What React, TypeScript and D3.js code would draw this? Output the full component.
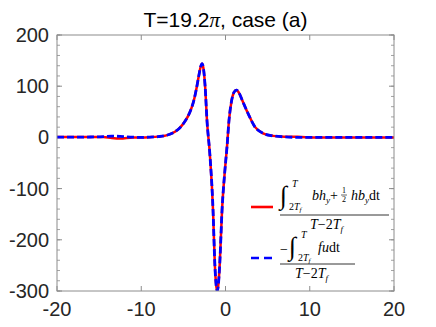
import * as d3 from "d3";

// size of the picture
const W = 436;
const H = 327;

// plot box (MATLAB-like axes)
const margin = { top: 35, right: 42, bottom: 36, left: 57 };

// data
const xPos = [
  -20, -18, -16, -14.5, -13.5, -12.5, -11, -10, -9, -8, -7, -6, -5.4, -4.83, -4.4, -4.04,
  -3.7, -3.44, -3.15, -2.95, -2.78, -2.62, -2.42, -2.19, -1.87, -1.48, -1.27, -1.1, -0.97,
  -0.83, -0.68, -0.41, -0.1, 0.18, 0.42, 0.74, 1.0, 1.29, 1.6, 2.0, 2.67, 3.47, 4.45, 5.64,
  7, 8, 9, 11, 13, 15, 17, 20,
];
const blueVals = [
  0.5, 0.5, 0.8, 1.5, 2.5, 2, 0.5, 0, 0.5, 1.5, 4, 11, 19, 31, 43, 57,
  76, 96, 122, 138, 144, 135, 100, 31, -30, -142, -246, -290, -300,
  -285, -246, -142, -70, -18, 34, 73, 88, 92.5, 87, 72, 47, 21, 8, 3,
  1, 0.3, 0, 0, 0, 0, 0, 0,
];
const redVals = [
  1, 0.8, 0.8, 1, -1, -2, 0, 0, 0.5, 1.5, 4, 11, 19, 31, 43, 57,
  76, 96, 122, 138, 144, 135, 100, 31, -30, -142, -246, -290, -300,
  -285, -246, -142, -70, -18, 34, 73, 88, 92.5, 87, 72, 47, 21, 8, 3,
  1.5, 1.3, 0.8, 0, 0, 0, 0, 0,
];

const xTicks = [-20, -10, 0, 10, 20];
const yTicks = [200, 100, 0, -100, -200, -300];
const yMinor = d3.range(-300, 201, 20);

const axisColor = "#262626";
const boxColor = "#8c8c8c";

export default function App() {
  const x = d3.scaleLinear().domain([-20, 20]).range([margin.left, W - margin.right]);
  const y = d3.scaleLinear().domain([-300, 200]).range([H - margin.bottom, margin.top]);

  const line = d3
    .line<number>()
    .x((_, i) => x(xPos[i]))
    .y((d) => y(d))
    .curve(d3.curveMonotoneX);

  const x0 = x.range()[0];
  const x1 = x.range()[1];
  const yTop = y.range()[1];
  const yBot = y.range()[0];

  const mathFont = "'Liberation Serif', 'DejaVu Serif', serif";

  return (
    <svg
      width={W}
      height={H}
      style={{ position: "absolute", left: 0, top: 0, background: "#fff" }}
      fontFamily="'Liberation Sans', Arial, sans-serif"
    >
      <defs>
        <clipPath id="plot-clip">
          <rect x={x0} y={yTop - 2} width={x1 - x0} height={yBot - yTop + 2} />
        </clipPath>
      </defs>

      {/* title */}
      <text x={(x0 + x1) / 2} y={27} textAnchor="middle" fontSize={21} fill="#000">
        T=19.2<tspan fontFamily={mathFont} fontStyle="italic">π</tspan>, case (a)
      </text>

      {/* minor y ticks, left and right */}
      {yMinor.map((v) => (
        <g key={"m" + v} stroke={boxColor} strokeWidth={0.8}>
          <line x1={x0} x2={x0 + 3} y1={y(v)} y2={y(v)} />
          <line x1={x1} x2={x1 - 3} y1={y(v)} y2={y(v)} />
        </g>
      ))}
      {/* major y ticks */}
      {yTicks.map((v) => (
        <g key={"y" + v}>
          <line x1={x0} x2={x0 + 5} y1={y(v)} y2={y(v)} stroke={boxColor} />
          <line x1={x1} x2={x1 - 5} y1={y(v)} y2={y(v)} stroke={boxColor} />
          <text x={x0 - 8} y={y(v)} dy="0.35em" textAnchor="end" fontSize={20} fill={axisColor}>
            {v}
          </text>
        </g>
      ))}
      {/* x ticks */}
      {xTicks.map((v) => (
        <g key={"x" + v}>
          <line x1={x(v)} x2={x(v)} y1={yBot} y2={yBot - 5} stroke={boxColor} />
          <line x1={x(v)} x2={x(v)} y1={yTop} y2={yTop + 5} stroke={boxColor} />
          <text x={x(v)} y={yBot + 25} textAnchor="middle" fontSize={20} fill={axisColor}>
            {v}
          </text>
        </g>
      ))}

      {/* curves */}
      <g clipPath="url(#plot-clip)" fill="none" strokeLinejoin="round">
        <path d={line(redVals) ?? ""} stroke="#ff0000" strokeWidth={2.5} />
        <path d={line(blueVals) ?? ""} stroke="#0000ff" strokeWidth={2.8} strokeDasharray="7,3" />
      </g>

      {/* box */}
      <rect x={x0} y={yTop} width={x1 - x0} height={yBot - yTop} fill="none" stroke={boxColor} />

      {/* legend */}
      <g fontFamily={mathFont} fill="#000">
        <line x1={251} x2={273} y1={207} y2={207} stroke="#ff0000" strokeWidth={2.6} />
        <text x={280} y={204} fontSize={26}>∫</text>
        <text x={292} y={187} fontSize={10} fontStyle="italic">T</text>
        <text x={289} y={210} fontSize={10}>
          2<tspan fontStyle="italic">T</tspan>
          <tspan fontSize={7} fontStyle="italic" dy={2}>f</tspan>
        </text>
        <text x={312} y={200} fontSize={14} fontStyle="italic">
          bh<tspan fontSize={9} dy={3}>y</tspan>
          <tspan dy={-3} fontStyle="normal">+</tspan>
        </text>
        <text x={344} y={193} fontSize={8} textAnchor="middle">1</text>
        <line x1={341} x2={347} y1={195} y2={195} stroke="#000" strokeWidth={0.6} />
        <text x={344} y={202} fontSize={8} textAnchor="middle">2</text>
        <text x={351} y={200} fontSize={14} fontStyle="italic">
          hb<tspan fontSize={9} dy={3}>y</tspan>
          <tspan dy={-3} fontStyle="normal">dt</tspan>
        </text>
        <line x1={280} x2={389} y1={215} y2={215} stroke="#000" strokeWidth={0.8} />
        <text x={310} y={229} fontSize={14} fontStyle="italic">
          T<tspan fontStyle="normal">−2</tspan>T<tspan fontSize={9} dy={3}>f</tspan>
        </text>

        <line x1={251} x2={273} y1={258} y2={258} stroke="#0000ff" strokeWidth={2.6} strokeDasharray="8,5" />
        <text x={280} y={254} fontSize={14}>−</text>
        <text x={289} y={255} fontSize={26}>∫</text>
        <text x={301} y={238} fontSize={10} fontStyle="italic">T</text>
        <text x={298} y={261} fontSize={10}>
          2<tspan fontStyle="italic">T</tspan>
          <tspan fontSize={7} fontStyle="italic" dy={2}>f</tspan>
        </text>
        <text x={318} y={252} fontSize={14} fontStyle="italic">
          fu<tspan fontStyle="normal">dt</tspan>
        </text>
        <line x1={280} x2={355} y1={264} y2={264} stroke="#000" strokeWidth={0.8} />
        <text x={295} y={278} fontSize={14} fontStyle="italic">
          T<tspan fontStyle="normal">−2</tspan>T<tspan fontSize={9} dy={3}>f</tspan>
        </text>
      </g>
    </svg>
  );
}
